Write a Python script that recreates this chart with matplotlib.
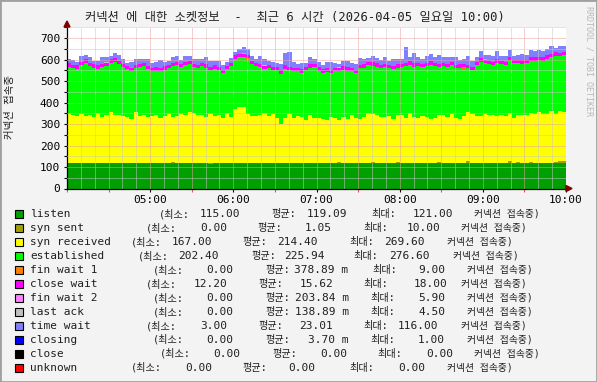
import numpy as np
import matplotlib
matplotlib.use("Agg")
import matplotlib.pyplot as plt
from matplotlib.patches import Rectangle, Polygon

MONO = ['DejaVu Sans Mono', 'Noto Sans CJK KR']
plt.rcParams['font.family'] = MONO

# 120 samples, 3 minutes apart, 04:00 .. 10:00
listen = [119,119,120,119,118,119,120,119,119,120,119,119,118,119,120,119,119,120,119,119,120,119,118,119,119,120,119,119,120,119,
          119,120,119,119,115,118,119,120,119,119,120,119,119,118,119,120,119,119,120,121,119,119,118,119,120,119,119,120,119,119,
          120,119,119,118,119,120,119,119,120,119,119,118,119,120,119,119,120,119,119,121,119,118,119,120,119,119,120,119,119,120,
          119,119,120,119,118,119,120,119,119,120,119,119,120,119,118,119,120,119,119,120,119,121,119,119,120,119,119,120,119,120]
syn_sent = [0,1,0,0,2,1,0,1,0,0,1,2,0,1,0,0,1,0,2,1,0,0,1,0,1,2,0,0,1,0,
            1,0,0,1,2,0,1,0,1,0,0,1,2,0,0,1,0,1,0,0,2,1,0,1,0,0,1,0,2,0,
            0,1,0,1,0,2,0,0,1,0,1,0,0,2,1,0,1,0,0,1,0,1,2,0,0,1,0,1,0,2,
            1,0,1,0,0,2,7,1,0,1,0,0,1,2,0,1,8,0,6,1,0,2,1,0,1,0,1,3,10,9]
syn_received = [230,220,216,226,219,223,212,230,216,223,235,219,223,217,212,206,235,216,223,214,217,223,209,219,226,212,220,228,219,235,
                230,220,225,215,228,218,222,210,232,216,252,260,258,228,220,215,222,230,218,225,205,180,212,225,208,220,215,200,222,210,
                210,205,200,215,208,198,212,205,220,210,202,215,232,225,220,215,210,218,205,220,225,210,230,215,208,218,212,205,210,220,
                220,215,225,210,205,218,230,225,220,215,228,225,220,215,222,218,225,210,218,222,225,230,228,235,225,230,240,225,232,228]
established = [218,220,219,229,246,227,228,206,229,229,230,251,237,228,223,222,205,229,227,221,208,207,219,213,214,236,235,217,233,225,
               215,220,225,227,207,222,208,210,203,234,233,232,232,252,240,235,223,205,222,204,225,235,228,205,217,206,205,230,218,235,
               218,215,225,204,222,227,223,225,205,210,238,230,223,225,228,225,235,222,230,220,220,240,225,233,244,227,238,250,240,225,
               230,230,230,230,240,217,205,207,235,255,237,235,235,250,238,237,245,255,242,236,240,240,247,245,250,255,250,270,256,264]
fin_wait1 = [0,0,1,0,0,0,0,2,0,0,0,0,0,0,1,0,0,0,0,0,0,0,0,3,0,0,0,0,0,0,
             0,0,0,0,0,0,1,0,0,0,0,0,0,9,0,0,0,0,0,0,0,0,0,0,2,0,0,0,0,0,
             0,0,0,0,0,0,0,0,1,0,0,0,0,0,0,0,0,0,3,0,0,0,0,0,0,0,0,0,0,0,
             0,0,0,0,0,8,0,0,0,0,0,0,0,0,0,0,0,0,0,2,0,0,0,0,0,0,0,0,0,0]
close_wait = [16,15,17,14,16,15,18,16,15,14,16,17,15,16,14,15,17,16,15,16,14,15,16,17,15,16,15,14,16,17,
              15,16,14,17,15,16,15,13,16,15,17,16,15,14,16,15,16,17,15,14,16,15,18,16,15,14,16,15,17,16,
              16,15,17,15,14,16,15,17,16,15,14,16,15,17,16,15,16,14,15,16,17,15,16,15,14,16,15,17,16,15,
              15,16,15,17,16,14,15,16,17,15,16,15,14,16,17,15,16,15,12,16,15,17,16,15,16,17,15,16,15,16]
fin_wait2 = [0,0,0,0,0,0,1,0,0,0,0,0,0,0,0,0,0,0,0,0,2,0,0,0,0,0,0,0,0,0,
             0,0,0,0,0,0,0,0,0,0,0,0,6,0,0,0,0,0,0,0,0,0,0,0,0,0,0,0,1,0,
             0,0,0,0,0,0,0,0,0,0,0,0,0,0,0,2,0,0,0,0,0,0,0,0,0,0,0,0,0,0,
             0,0,0,0,0,0,0,0,0,0,1,0,0,0,0,0,0,0,0,0,0,0,0,0,0,0,0,0,0,0]
last_ack = [0,0,0,0,0,0,0,0,0,1,0,0,0,0,0,0,0,0,0,0,0,0,0,0,0,0,0,0,0,0,
            0,0,0,0,0,0,0,0,0,0,0,0,0,0,0,0,0,4.5,0,0,0,0,0,0,0,0,0,0,0,0,
            0,0,0,0,0,1,0,0,0,0,0,0,0,0,0,0,0,0,0,0,0,0,0,0,0,0,0,0,0,0,
            0,0,0,0,0,0,0,0,0,0,0,0,0,0,0,0,0,0,0,0,0,0,0,0,2,0,0,0,0,0]
time_wait = [20,25,18,30,22,28,15,20,35,25,18,22,30,20,15,28,25,20,18,30,22,25,35,20,18,25,30,22,28,20,
             22,28,20,35,25,18,30,22,20,25,15,20,25,30,22,18,35,28,20,25,18,30,55,70,25,22,30,20,35,25,
             25,20,30,35,22,18,25,30,22,28,35,25,20,30,25,22,28,20,30,25,22,75,20,50,25,22,30,35,28,40,
             28,32,22,38,20,26,42,28,22,32,20,28,26,36,22,28,32,20,26,28,22,36,28,32,26,28,40,22,32,28]
closing = [0,0,0,0,0,0,0,0,0,0,0,0,0,0,0,0,0,0,0,0,0,0,0,0,0,0,0,0,0,0,
           0,0,0,0,0,0,0,0,0,0,0,0,0,0,0,0,0,0,0,0,0,0,0,0,0,0,0,0,0,0,
           0,0,0,0,0,0,0,0,0,0,0,0,0,0,0,0,0,0,0,0,1,0,0,0,0,0,0,0,0,0,
           0,0,0,0,0,0,0,0,0,0,0,0,0,0,0,0,0,0,0,0,0,0,0,0,0,0,0,0,0,0]
close = [0] * 120
unknown = [0] * 120

names = ['listen', 'syn sent', 'syn received', 'established', 'fin wait 1', 'close wait',
         'fin wait 2', 'last ack', 'time wait', 'closing', 'close', 'unknown']
colors = ['#00A000', '#A0A000', '#FFFF00', '#00FF00', '#FF8000', '#FF00FF',
          '#FF80FF', '#C0C0C0', '#8080FF', '#0000FF', '#000000', '#FF0000']
stat_min = ['115.00', '0.00', '167.00', '202.40', '0.00', '12.20', '0.00', '0.00', '3.00', '0.00', '0.00', '0.00']
stat_avg = ['119.09', '1.05', '214.40', '225.94', '378.89 m', '15.62', '203.84 m', '138.89 m', '23.01', '3.70 m', '0.00', '0.00']
stat_max = ['121.00', '10.00', '269.60', '276.60', '9.00', '18.00', '5.90', '4.50', '116.00', '1.00', '0.00', '0.00']
hour_labels = ['05:00', '06:00', '07:00', '08:00', '09:00', '10:00']

series = [listen, syn_sent, syn_received, established, fin_wait1, close_wait,
          fin_wait2, last_ack, time_wait, closing, close, unknown]

W, H = 597, 382
fig = plt.figure(figsize=(W / 100, H / 100), dpi=100, facecolor='#F3F3F3')

def fx(x):
    return x / W

def fy(y):
    return 1 - y / H

ax = fig.add_axes([fx(67), fy(188.5), (566 - 67) / W, (188.5 - 27) / H])
ax.set_facecolor('white')

n = len(listen)
t = 4 + np.arange(n + 1) * 6.0 / n
base = np.zeros(n + 1)
for vals, c in zip(series, colors):
    v = np.append(vals, vals[-1]).astype(float)
    top = base + v
    ax.fill_between(t, base, top, step='post', color=c, linewidth=0, zorder=1)
    base = top

ax.set_xlim(4, 10)
ax.set_ylim(0, 752)
ax.set_xticks(range(5, 11))
ax.set_xticklabels(hour_labels)
ax.set_xticks(np.arange(4, 10.01, 0.5), minor=True)
ax.set_yticks(range(0, 701, 100))
ax.set_yticks(range(0, 751, 50), minor=True)
ax.tick_params(axis='both', which='both', labelsize=8, length=2, width=0.8, pad=3)
ax.tick_params(axis='x', which='minor', colors='#E06060')

# grid on top of the areas, rrdtool style
dots = (0, (1, 1))
for xm in np.arange(4 + 1 / 6, 10, 1 / 6):
    major = abs(xm * 2 - round(xm * 2)) < 1e-6
    ax.axvline(xm, color='#E8A0A0' if major else '#C8C8C8', lw=0.72, ls=dots, zorder=3)
for ym in range(50, 751, 50):
    ax.axhline(ym, color='#E8A0A0' if ym % 100 == 0 else '#C8C8C8', lw=0.72, ls=dots, zorder=3)

for s in ['top', 'right']:
    ax.spines[s].set_visible(False)
for s in ['left', 'bottom']:
    ax.spines[s].set_color('black')
    ax.spines[s].set_linewidth(0.9)

# axis arrows
fig.patches.append(Polygon([[fx(64), fy(27)], [fx(70), fy(27)], [fx(67), fy(21)]],
                           closed=True, transform=fig.transFigure, color='#800000'))
fig.patches.append(Polygon([[fx(566), fy(185.5)], [fx(566), fy(191.5)], [fx(572), fy(188.5)]],
                           closed=True, transform=fig.transFigure, color='#800000'))

fig.text(fx(295), fy(17), '커넥션 에 대한 소켓정보  -  최근 6 시간 (2026-04-05 일요일 10:00)',
         ha='center', va='center', fontsize=8.8, family=MONO, color='#202020')
fig.text(fx(10), fy(107), '커넥션 접속중', rotation=90, ha='center', va='center',
         fontsize=7.5, family=MONO, color='#202020')
fig.text(fx(589), fy(6), 'RRDTOOL / TOBI OETIKER', rotation=270, ha='center', va='top',
         fontsize=6, family=MONO, color='#B8B8B8')

# legend
pos = [(159, 240, 271, 347, 371, 453, 474),
       (146, 227, 257, 332, 363, 440, 461),
       (131, 212, 242, 318, 349, 425, 447),
       (138, 219, 251, 325, 353, 430, 453),
       (153, 233, 265, 348, 372, 445, 467),
       (146, 227, 258, 333, 363, 447, 461),
       (153, 233, 265, 349, 370, 445, 467),
       (153, 233, 265, 349, 370, 445, 467),
       (146, 227, 258, 333, 363, 438, 461),
       (153, 233, 265, 349, 370, 445, 467),
       (160, 240, 272, 347, 377, 453, 474),
       (131, 212, 242, 315, 349, 425, 447)]
for i, name in enumerate(names):
    y = 214 + 13.97 * i
    fig.patches.append(Rectangle((fx(15), fy(y + 4)), 8 / W, 8 / H, transform=fig.transFigure,
                                 facecolor=colors[i], edgecolor='black', linewidth=0.8))
    kw = dict(va='center', family=MONO, color='#202020')
    p = pos[i]
    fig.text(fx(30), fy(y), name, ha='left', fontsize=8, **kw)
    fig.text(fx(p[0]), fy(y), '(최소:', ha='left', fontsize=7.3, **kw)
    fig.text(fx(p[1]), fy(y), stat_min[i], ha='right', fontsize=8, **kw)
    fig.text(fx(p[2]), fy(y), '평균:', ha='left', fontsize=7.3, **kw)
    fig.text(fx(p[3]), fy(y), stat_avg[i], ha='right', fontsize=8, **kw)
    fig.text(fx(p[4]), fy(y), '최대:', ha='left', fontsize=7.3, **kw)
    fig.text(fx(p[5]), fy(y), stat_max[i], ha='right', fontsize=8, **kw)
    fig.text(fx(p[6]), fy(y), '커넥션 접속중)', ha='left', fontsize=7, **kw)

# outer frame
fig.patches.append(Rectangle((0, 0), 1, 1, transform=fig.transFigure, fill=False,
                             edgecolor='#A0A0A0', linewidth=2))

fig.savefig('out.png', dpi=100, facecolor=fig.get_facecolor())
